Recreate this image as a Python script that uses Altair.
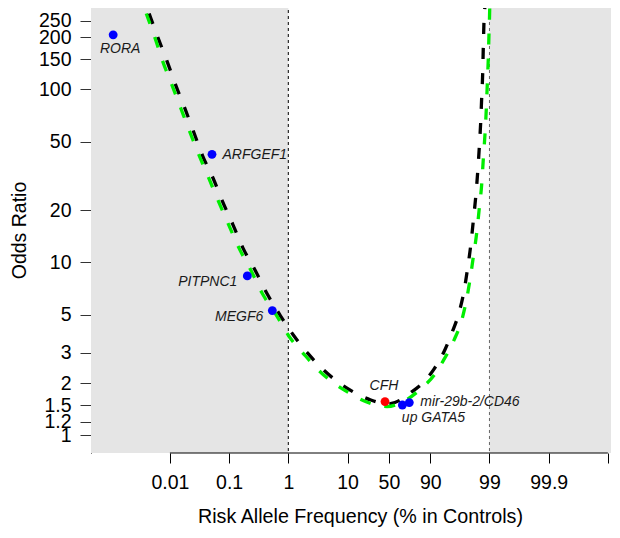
import math
import altair as alt
import pandas as pd

# ---------------- data ----------------
# black dashed curve: risk allele frequency (%) and odds ratio
black_freq = [0.0032, 0.00449, 0.0063, 0.00893, 0.01253, 0.01778, 0.02523, 0.03524,
              0.05346, 0.078, 0.1164, 0.1718, 0.2739, 0.4315, 0.724, 1.215, 2.177,
              3.811, 6.72, 12.88, 24.66, 48.3, 67.6, 76.87, 86.37, 91.35, 94.14,
              95.66, 96.73, 97.31, 97.65, 97.93, 98.125, 98.292, 98.42, 98.516,
              98.594, 98.648, 98.70, 98.729, 98.763, 98.81, 98.833]
black_or = [376, 273, 199, 146, 106, 78.2, 56.8, 41.8,
            30.8, 22.4, 16.5, 12.1, 9.05, 6.66, 4.97, 3.81, 2.96,
            2.42, 2.05, 1.777, 1.604, 1.52, 1.60, 1.738, 2.00, 2.42, 3.05,
            3.90, 5.13, 6.84, 9.17, 12.6, 17.4, 23.9, 33.4, 46.5,
            64.9, 90.5, 126, 176, 249, 312, 376]

# green dashed curve
green_freq = [0.00287, 0.00395, 0.0056, 0.00764, 0.01084, 0.0152, 0.0217, 0.0310,
              0.0452, 0.0667, 0.0984, 0.147, 0.232, 0.360, 0.627, 1.04, 1.937,
              3.30, 5.92, 11.15, 21.1, 46.5, 72.23, 86.05, 91.45, 93.98, 96.03,
              97.12, 97.60, 97.87, 98.125, 98.357, 98.516, 98.648, 98.729, 98.81,
              98.869, 98.912, 98.954, 98.982, 99.009, 99.02]
green_or = [376, 277, 198.6, 144, 106, 78.2, 56.8, 41.8,
            30.8, 22.4, 16.5, 12.1, 9.05, 6.66, 4.97, 3.72, 2.89,
            2.37, 2.00, 1.745, 1.56, 1.47, 1.58, 1.88, 2.24, 2.71, 3.56,
            4.76, 6.29, 7.97, 10.76, 14.8, 20.65, 28.4, 39.6, 55.3,
            77.1, 107.6, 152, 212, 292, 376]

# labelled loci
genes = ["RORA", "ARFGEF1", "PITPNC1", "MEGF6", "CFH", "mir-29b-2/CD46", "up GATA5"]
gene_freq = [0.0011, 0.0514, 0.203, 0.537, 43.0, 77.4, 70.4]
gene_or = [207, 42.2, 8.36, 5.27, 1.57, 1.55, 1.50]
gene_group = ["other", "other", "other", "other", "CFH", "other", "other"]

# axes
tick_freq = [0.01, 0.1, 1, 10, 50, 90, 99, 99.9, 99.99]
tick_text = ["0.01", "0.1", "1", "10", "50", "90", "99", "99.9", ""]
or_ticks = [1, 1.2, 1.5, 2, 3, 5, 10, 20, 50, 100, 150, 200, 250]
shade_from = [0.0001, 99]
shade_to = [1, 99.99999]
guide_freq = [1, 99]

# ---------------- helpers ----------------
def fu(p):
    return math.log10(p) if p <= 50 else 2 * math.log10(50) - math.log10(100 - p)

def uexpr(f):
    return (f"datum.{f} <= 50 ? log(datum.{f})/LN10 : "
            f"2*log(50)/LN10 - log(100 - datum.{f})/LN10")

tick_u = [fu(p) for p in tick_freq]
label_expr = " : ".join(
    f"abs(datum.value - ({u:.5f})) < 0.001 ? '{t}'" for u, t in zip(tick_u, tick_text)
) + " : ''"

W, H = 528, 449
FONT = "Liberation Sans"

xscale = alt.Scale(domain=[-3.333, 5.586], nice=False, zero=False)
yscale = alt.Scale(type="log", domain=[0.792, 312], nice=False)

xaxis = alt.Axis(values=tick_u, labelExpr=label_expr, domain=False, grid=False,
                 tickSize=10, tickColor="#000", labelPadding=10, labelFontSize=19.5,
                 labelFont=FONT, labelColor="#000", labelOverlap=False, labelFlush=False,
                 title="Risk Allele Frequency (% in Controls)", titleFontSize=19.7,
                 titleFont=FONT, titleFontWeight="normal", titleColor="#000",
                 titleX=269, titleY=69, titleBaseline="alphabetic", titleAlign="center")

yaxis = alt.Axis(values=or_ticks, format="~g", grid=False, domainColor="#000",
                 tickSize=11, tickColor="#333", labelPadding=9, labelFontSize=19.5,
                 labelFont=FONT, labelColor="#000", labelOverlap=False, labelFlush=False,
                 title="Odds Ratio", titleFontSize=19.5, titleFont=FONT,
                 titleFontWeight="normal", titleColor="#000", titleAngle=270,
                 titleX=-65.5, titleY=226, titleBaseline="alphabetic", titleAlign="center")

X = lambda: alt.X("u:Q", scale=xscale, axis=xaxis)
Y = lambda: alt.Y("OR:Q", scale=yscale, axis=yaxis)

# ---------------- layers ----------------
shade = alt.Chart(pd.DataFrame({"p": shade_from, "p2": shade_to})).transform_calculate(
    u=uexpr("p"), u2=uexpr("p2")
).mark_rect(color="#e5e5e5", clip=True).encode(
    x=X(), x2="u2:Q", y=alt.value(0), y2=alt.value(H)
)

vline1 = alt.Chart(pd.DataFrame({"p": guide_freq[:1]})).transform_calculate(
    u=uexpr("p")
).mark_rule(color="#000", strokeDash=[3, 3], strokeWidth=1).encode(
    x=X(), y=alt.value(0), y2=alt.value(H)
)
vline2 = alt.Chart(pd.DataFrame({"p": guide_freq[1:]})).transform_calculate(
    u=uexpr("p")
).mark_rule(color="#666", strokeDash=[3, 3], strokeWidth=1).encode(
    x=X(), y=alt.value(0), y2=alt.value(H)
)

xline = alt.Chart(pd.DataFrame({"p": [tick_freq[0]], "p2": [tick_freq[-1]]})).transform_calculate(
    u=uexpr("p"), u2=uexpr("p2")
).mark_rule(color="#000", strokeWidth=1).encode(
    x=X(), x2="u2:Q", y=alt.value(H)
)

def curve(freq, ors, colour):
    return alt.Chart(pd.DataFrame({"p": freq, "OR": ors})).transform_calculate(
        u=uexpr("p")
    ).mark_line(color=colour, strokeDash=[11, 14], strokeWidth=3.3,
                interpolate="monotone", clip=True, strokeCap="butt").encode(
        x=X(), y=Y()
    )

black = curve(black_freq, black_or, "#000000")
green = curve(green_freq, green_or, "#00ee00")

gdf = pd.DataFrame({"gene": genes, "p": gene_freq, "OR": gene_or, "grp": gene_group})

def pts(grp, colour):
    return alt.Chart(gdf).transform_filter(alt.datum.grp == grp).transform_calculate(
        u=uexpr("p")
    ).mark_circle(color=colour, opacity=1, size=78).encode(x=X(), y=Y())

points = [pts("other", "#0000ff"), pts("CFH", "#ff0000")]

label_style = {
    "RORA": dict(align="center", dx=7, dy=14),
    "ARFGEF1": dict(align="left", dx=10.5, dy=1),
    "PITPNC1": dict(align="right", dx=-10, dy=6),
    "MEGF6": dict(align="right", dx=-9, dy=6.3),
    "CFH": dict(align="center", dx=-1, dy=-16),
    "mir-29b-2/CD46": dict(align="left", dx=11, dy=-1),
    "up GATA5": dict(align="left", dx=-0.5, dy=12.5),
}

labels = []
for g in genes:
    st = label_style[g]
    labels.append(
        alt.Chart(gdf).transform_filter(alt.datum.gene == g).transform_calculate(
            u=uexpr("p")
        ).mark_text(font=FONT, fontSize=14, fontStyle="italic", color="#1a1a1a",
                    baseline="middle", **st).encode(x=X(), y=Y(), text="gene:N")
    )

chart = alt.layer(shade, vline1, vline2, xline, black, green, *points, *labels).properties(
    width=W, height=H,
    autosize=alt.AutoSizeParams(type="none"),
    padding={"left": 83, "top": -4, "right": -8, "bottom": 74},
    background="white",
).configure_view(stroke=None)

chart.save("out.html", embed_options={"renderer": "svg", "actions": False})
